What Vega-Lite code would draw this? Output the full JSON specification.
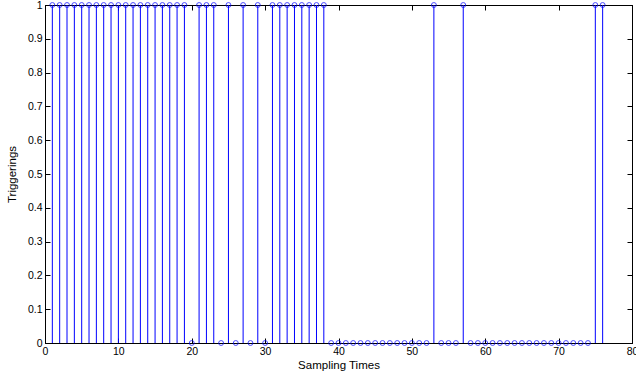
{
  "$schema": "https://vega.github.io/schema/vega-lite/v6.json",
  "width": 587,
  "height": 338,
  "autosize": "none",
  "padding": {"left": 45, "top": 5, "right": 4, "bottom": 35},
  "background": "white",
  "config": {
    "view": {"stroke": "black", "strokeWidth": 1},
    "axis": {"grid": false, "domainColor": "black", "tickColor": "black", "labelColor": "black", "titleColor": "black", "labelFont": "Liberation Sans", "titleFont": "Liberation Sans", "labelFontSize": 10.5, "titleFontSize": 11.5, "titleFontWeight": "normal", "tickSize": -5, "domainWidth": 1}
  },
  "data": {"values": [
    {"t": 1, "v": 1}, {"t": 2, "v": 1}, {"t": 3, "v": 1}, {"t": 4, "v": 1}, {"t": 5, "v": 1},
    {"t": 6, "v": 1}, {"t": 7, "v": 1}, {"t": 8, "v": 1}, {"t": 9, "v": 1}, {"t": 10, "v": 1},
    {"t": 11, "v": 1}, {"t": 12, "v": 1}, {"t": 13, "v": 1}, {"t": 14, "v": 1}, {"t": 15, "v": 1},
    {"t": 16, "v": 1}, {"t": 17, "v": 1}, {"t": 18, "v": 1}, {"t": 19, "v": 1}, {"t": 20, "v": 0},
    {"t": 21, "v": 1}, {"t": 22, "v": 1}, {"t": 23, "v": 1}, {"t": 24, "v": 0}, {"t": 25, "v": 1},
    {"t": 26, "v": 0}, {"t": 27, "v": 1}, {"t": 28, "v": 0}, {"t": 29, "v": 1}, {"t": 30, "v": 0},
    {"t": 31, "v": 1}, {"t": 32, "v": 1}, {"t": 33, "v": 1}, {"t": 34, "v": 1}, {"t": 35, "v": 1},
    {"t": 36, "v": 1}, {"t": 37, "v": 1}, {"t": 38, "v": 1}, {"t": 39, "v": 0}, {"t": 40, "v": 0},
    {"t": 41, "v": 0}, {"t": 42, "v": 0}, {"t": 43, "v": 0}, {"t": 44, "v": 0}, {"t": 45, "v": 0},
    {"t": 46, "v": 0}, {"t": 47, "v": 0}, {"t": 48, "v": 0}, {"t": 49, "v": 0}, {"t": 50, "v": 0},
    {"t": 51, "v": 0}, {"t": 52, "v": 0}, {"t": 53, "v": 1}, {"t": 54, "v": 0}, {"t": 55, "v": 0},
    {"t": 56, "v": 0}, {"t": 57, "v": 1}, {"t": 58, "v": 0}, {"t": 59, "v": 0}, {"t": 60, "v": 0},
    {"t": 61, "v": 0}, {"t": 62, "v": 0}, {"t": 63, "v": 0}, {"t": 64, "v": 0}, {"t": 65, "v": 0},
    {"t": 66, "v": 0}, {"t": 67, "v": 0}, {"t": 68, "v": 0}, {"t": 69, "v": 0}, {"t": 70, "v": 0},
    {"t": 71, "v": 0}, {"t": 72, "v": 0}, {"t": 73, "v": 0}, {"t": 74, "v": 0}, {"t": 75, "v": 1},
    {"t": 76, "v": 1}
  ]},
  "layer": [
    {
      "encoding": {
        "x": {"field": "t", "type": "quantitative", "scale": {"domain": [0, 80], "nice": false}, "axis": {"title": "Sampling Times", "values": [0, 10, 20, 30, 40, 50, 60, 70, 80], "labelPadding": 8, "titlePadding": 3, "labelFlush": false}},
        "y": {"field": "v", "type": "quantitative", "scale": {"domain": [0, 1], "nice": false}, "axis": {"title": "Triggerings", "format": ".1~f", "values": [0, 0.1, 0.2, 0.3, 0.4, 0.5, 0.6, 0.7, 0.8, 0.9, 1], "labelPadding": 8, "titlePadding": 10, "labelFlush": false}}
      },
      "layer": [
        {
          "mark": {"type": "rule", "color": "#0000ff", "strokeWidth": 1},
          "encoding": {"y2": {"datum": 0}}
        },
        {
          "mark": {"type": "point", "shape": "circle", "filled": false, "color": "#0000ff", "size": 24, "strokeWidth": 1},
          "encoding": {}
        }
      ]
    },
    {
      "mark": {"type": "point", "opacity": 0},
      "encoding": {
        "x": {"field": "t", "type": "quantitative", "scale": {"domain": [0, 80], "nice": false}, "axis": {"orient": "top", "title": null, "labels": false, "values": [0, 10, 20, 30, 40, 50, 60, 70, 80]}},
        "y": {"field": "v", "type": "quantitative", "scale": {"domain": [0, 1], "nice": false}, "axis": {"orient": "right", "title": null, "labels": false, "values": [0, 0.1, 0.2, 0.3, 0.4, 0.5, 0.6, 0.7, 0.8, 0.9, 1]}}
      }
    }
  ],
  "resolve": {"scale": {"x": "independent", "y": "independent"}, "axis": {"x": "independent", "y": "independent"}}
}
